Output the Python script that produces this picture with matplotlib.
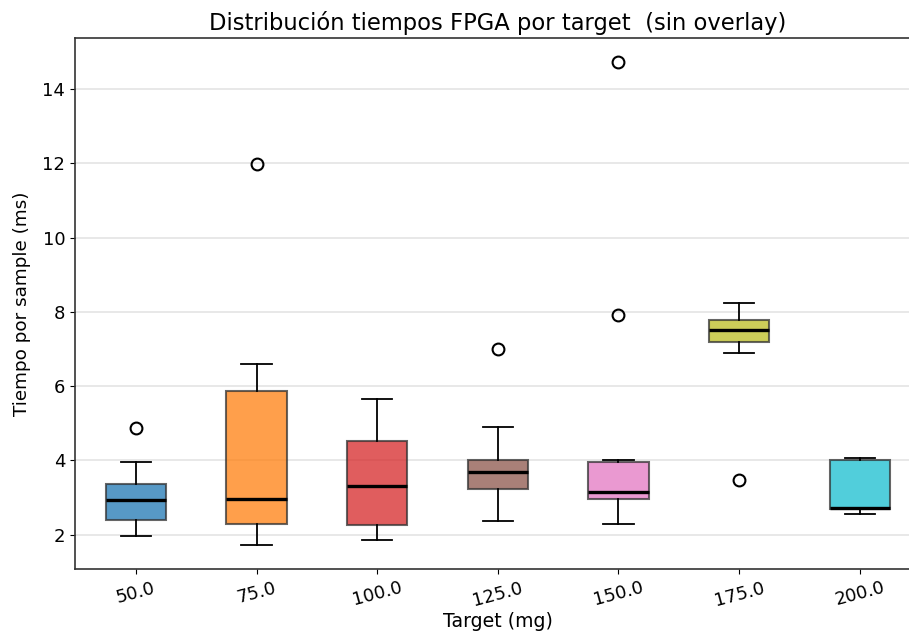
import numpy as np
import matplotlib
matplotlib.use("Agg")
import matplotlib.pyplot as plt

# tiempos por sample (ms) resumidos por target
targets = ["50.0", "75.0", "100.0", "125.0", "150.0", "175.0", "200.0"]
q1 = [2.40, 2.29, 2.27, 3.24, 2.97, 7.19, 2.69]
medianas = [2.94, 2.97, 3.32, 3.70, 3.14, 7.50, 2.73]
q3 = [3.37, 5.86, 4.53, 4.02, 3.97, 7.77, 4.00]
bigote_inf = [1.98, 1.73, 1.87, 2.38, 2.29, 6.88, 2.56]
bigote_sup = [3.97, 6.60, 5.66, 4.90, 4.00, 8.23, 4.08]
outliers = [[4.88], [11.97], [], [7.00], [7.92, 14.72], [3.47], []]
colores = ["#1f77b4", "#ff7f0e", "#d62728", "#8c564b", "#e377c2", "#bcbd22", "#17becf"]

stats = []
for i in range(len(targets)):
    stats.append({
        "label": targets[i],
        "q1": q1[i], "med": medianas[i], "q3": q3[i],
        "whislo": bigote_inf[i], "whishi": bigote_sup[i],
        "fliers": outliers[i],
    })

fig = plt.figure(figsize=(9.09, 6.44), dpi=100)
ax = fig.add_axes([75 / 909, 75 / 644, 845 / 909, 531 / 644])

bp = ax.bxp(stats, patch_artist=True, widths=0.5,
            medianprops=dict(color="black", linewidth=2.4),
            boxprops=dict(edgecolor="#333333", linewidth=1.5),
            whiskerprops=dict(color="black", linewidth=1.3),
            capprops=dict(color="black", linewidth=1.3),
            flierprops=dict(marker="o", markerfacecolor="none",
                            markeredgecolor="black", markersize=8.5, markeredgewidth=1.5))
for caja, c in zip(bp["boxes"], colores):
    caja.set_facecolor(c)
    caja.set_alpha(0.75)
    caja.set_edgecolor("#333333")

ax.set_xlim(0.495, 7.5)
ax.set_ylim(1.08, 15.37)
ax.grid(axis="y", color="#dddddd", linewidth=1.2, alpha=0.8)
ax.set_axisbelow(True)
for s in ax.spines.values():
    s.set_color("#333333")
    s.set_linewidth(1.2)

ax.set_title("Distribución tiempos FPGA por target  (sin overlay)", fontsize=16.3, pad=6)
ax.set_xlabel("Target (mg)", fontsize=13.6, labelpad=2)
ax.set_ylabel("Tiempo por sample (ms)", fontsize=13.2, labelpad=8)
ax.tick_params(axis="both", labelsize=13)
plt.setp(ax.get_xticklabels(), rotation=15)

fig.savefig("out.png", dpi=100)
